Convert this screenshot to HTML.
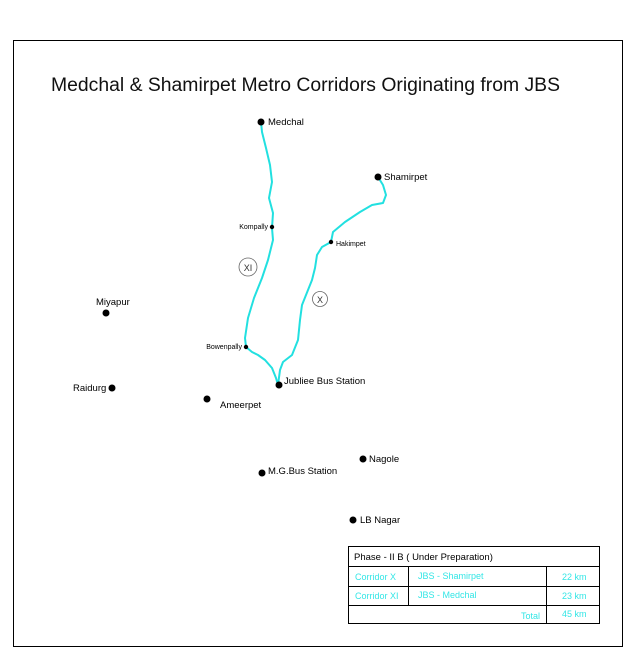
<!DOCTYPE html>
<html><head><style>
body{margin:0;background:#fff;}
svg{display:block;font-family:"Liberation Sans",Arial,sans-serif;}
</style></head><body>
<svg width="632" height="661" viewBox="0 0 632 661">
<rect x="13.5" y="40.5" width="609" height="606" fill="none" stroke="#000" stroke-width="1"/>
<text x="51" y="91" font-size="19" textLength="509" lengthAdjust="spacingAndGlyphs" fill="#111">Medchal &amp; Shamirpet Metro Corridors Originating from JBS</text>
<g fill="none" stroke="#22e0e0" stroke-width="2" stroke-linejoin="round">
<polyline points="261,122 262,132 266,148 270,165 272,182 269,198 273,213 272,228 273,240 268,260 262,278 254,298 248,318 245,338 246,347 252,352 258,355 265,360 272,368 276,378 278,385"/>
<polyline points="378,177 383,185 386,195 383,203 372,205 360,212 345,222 333,232 331,242 322,247 317,255 315,268 312,280 308,290 302,305 300,320 298,340 292,355 283,362 280,370 278,385"/>
</g>
<g fill="#000">
<circle cx="261" cy="122" r="3.5"/><circle cx="378" cy="177" r="3.5"/>
<circle cx="272" cy="227" r="2.2"/><circle cx="331" cy="242" r="2.2"/><circle cx="246" cy="347" r="2.2"/>
<circle cx="279" cy="385" r="3.5"/><circle cx="106" cy="313" r="3.5"/><circle cx="112" cy="388" r="3.5"/>
<circle cx="207" cy="399" r="3.5"/><circle cx="363" cy="459" r="3.5"/><circle cx="262" cy="473" r="3.5"/><circle cx="353" cy="520" r="3.5"/>
</g>
<g font-size="9.5" fill="#000">
<text x="268" y="125">Medchal</text>
<text x="384" y="180">Shamirpet</text>
<text x="284" y="384">Jubliee Bus Station</text>
<text x="96" y="305">Miyapur</text>
<text x="73" y="391">Raidurg</text>
<text x="220" y="408">Ameerpet</text>
<text x="369" y="462">Nagole</text>
<text x="268" y="474">M.G.Bus Station</text>
<text x="360" y="523">LB Nagar</text>
</g>
<g font-size="7" fill="#000">
<text x="268" y="229" text-anchor="end">Kompally</text>
<text x="336" y="246">Hakimpet</text>
<text x="242" y="349" text-anchor="end">Bowenpally</text>
</g>
<g fill="none" stroke="#666" stroke-width="0.8">
<circle cx="248" cy="267" r="9"/><circle cx="320" cy="299" r="7.5"/>
</g>
<text x="248" y="271" font-size="9" text-anchor="middle" fill="#333">XI</text>
<text x="320" y="303" font-size="9" text-anchor="middle" fill="#333">X</text>
<g stroke="#000" stroke-width="1" fill="none">
<rect x="348.5" y="546.5" width="251" height="77"/>
<line x1="348" y1="566.5" x2="600" y2="566.5"/>
<line x1="348" y1="586.5" x2="600" y2="586.5"/>
<line x1="348" y1="605.5" x2="600" y2="605.5"/>
<line x1="408.5" y1="566" x2="408.5" y2="605"/>
<line x1="546.5" y1="566" x2="546.5" y2="623"/>
</g>
<text x="354" y="560" font-size="9.5" fill="#000">Phase - II B ( Under Preparation)</text>
<g font-size="9" fill="#33e6e6">
<text x="355" y="580">Corridor X</text>
<text x="418" y="579">JBS - Shamirpet</text>
<text x="562" y="580">22 km</text>
<text x="355" y="599">Corridor XI</text>
<text x="418" y="598">JBS - Medchal</text>
<text x="562" y="599">23 km</text>
<text x="540" y="619" text-anchor="end">Total</text>
<text x="562" y="617">45 km</text>
</g>
</svg>
</body></html>
